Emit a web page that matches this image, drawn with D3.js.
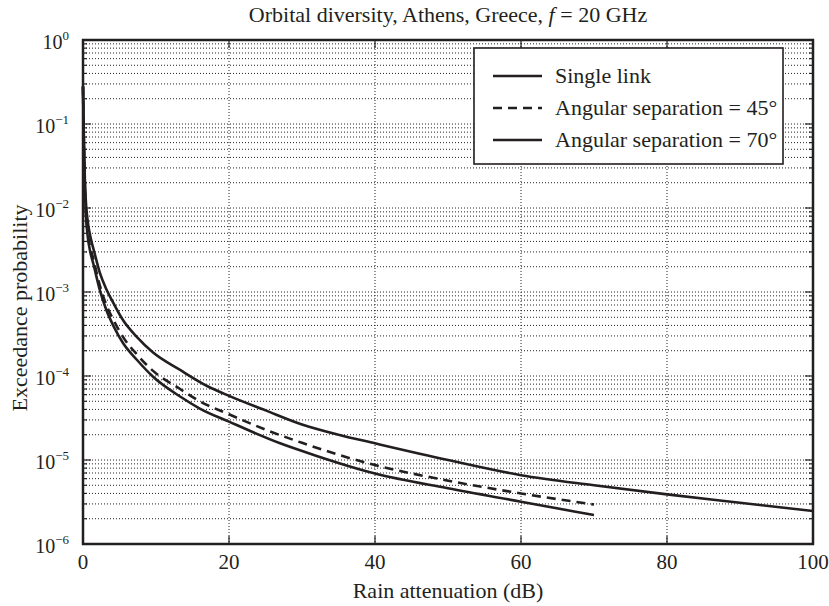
<!DOCTYPE html>
<html>
<head>
<meta charset="utf-8">
<script src="https://cdn.jsdelivr.net/npm/d3@7"></script>
<style>
  body { margin: 0; background: #fff; }
  text { font-family: "Liberation Serif", "DejaVu Serif", serif; fill: #231f20; }
  .grid line { stroke: #222; stroke-width: 1; stroke-dasharray: 1, 2; }
  .curve { fill: none; stroke: #231f20; stroke-width: 2.6; }
</style>
</head>
<body>
<div id="chart"></div>
<script>
// attenuation (dB) / exceedance probability
var singleA = [0, 0.1, 0.2, 0.35, 0.6, 1, 1.5, 2.3, 3.2, 4.2, 5.5, 7.4, 9.6, 13.3, 17, 20, 25, 30, 35, 40, 50, 60, 70, 80, 90, 100];
var singleP = [0.28, 0.085, 0.032, 0.014, 7.5e-3, 4.6e-3, 3.1e-3, 1.7e-3, 1.08e-3, 7.3e-4, 4.6e-4, 2.9e-4, 1.9e-4, 1.18e-4, 7.6e-5, 5.8e-5, 3.9e-5, 2.65e-5, 2.0e-5, 1.58e-5, 1.0e-5, 6.6e-6, 5.0e-6, 3.9e-6, 3.1e-6, 2.47e-6];

var sep45A = [0, 0.1, 0.2, 0.35, 0.6, 1, 1.4, 2.3, 3.2, 4.2, 5.5, 7.4, 9.6, 13.3, 16, 20, 25, 30, 40, 49, 60, 70];
var sep45P = [0.28, 0.075, 0.027, 0.011, 5.5e-3, 3.4e-3, 2.5e-3, 1.2e-3, 7.0e-4, 4.6e-4, 2.9e-4, 1.8e-4, 1.15e-4, 7.0e-5, 5.0e-5, 3.5e-5, 2.3e-5, 1.6e-5, 8.7e-6, 5.9e-6, 4.0e-6, 2.95e-6];

var sep70A = [0, 0.1, 0.2, 0.35, 0.6, 1, 1.4, 2.3, 3.2, 4.2, 5.5, 7.4, 9.6, 13.3, 16, 20, 27, 31.6, 40, 50, 60, 70];
var sep70P = [0.28, 0.07, 0.025, 0.01, 5.0e-3, 3.0e-3, 2.2e-3, 1.06e-3, 6.1e-4, 3.9e-4, 2.45e-4, 1.55e-4, 9.8e-5, 5.7e-5, 4.1e-5, 2.86e-5, 1.58e-5, 1.15e-5, 6.9e-6, 4.6e-6, 3.19e-6, 2.21e-6];

var xTicks = [0, 20, 40, 60, 80, 100];
var yExps = [0, -1, -2, -3, -4, -5, -6];
var legendLabels = ["Single link", "Angular separation = 45°", "Angular separation = 70°"];

var margin = { top: 40, right: 16, bottom: 62, left: 83 },
  width = 829 - margin.left - margin.right,
  height = 606 - margin.top - margin.bottom;

var x = d3.scaleLinear().domain([0, 100]).range([0, width]);
var y = d3.scaleLog().domain([1e-6, 1]).range([height, 0]);

var svg = d3.select("#chart").append("svg")
  .attr("width", 829)
  .attr("height", 606);

var g = svg.append("g")
  .attr("transform", "translate(" + margin.left + "," + margin.top + ")");

// minor + major log values
var yGridVals = [];
for (var e = -6; e < 0; e++) {
  for (var m = 1; m < 10; m++) {
    yGridVals.push(m * Math.pow(10, e));
  }
}

// dotted grid
var grid = g.append("g").attr("class", "grid");
grid.selectAll(".hl")
  .data(yGridVals.filter(function (v) { return v > 1e-6; }))
  .enter().append("line")
  .attr("x1", 0).attr("x2", width)
  .attr("y1", function (d) { return y(d); })
  .attr("y2", function (d) { return y(d); });
grid.selectAll(".vl")
  .data(xTicks.slice(1, -1))
  .enter().append("line")
  .attr("y1", 0).attr("y2", height)
  .attr("x1", function (d) { return x(d); })
  .attr("x2", function (d) { return x(d); });

// inward ticks
var ticks = g.append("g").attr("stroke", "#231f20").attr("stroke-width", 1.2);
yGridVals.forEach(function (v) {
  var len = (Math.abs(Math.log10(v) - Math.round(Math.log10(v))) < 1e-9) ? 8 : 4;
  ticks.append("line").attr("x1", 0).attr("x2", len).attr("y1", y(v)).attr("y2", y(v));
  ticks.append("line").attr("x1", width).attr("x2", width - len).attr("y1", y(v)).attr("y2", y(v));
});
xTicks.forEach(function (v) {
  ticks.append("line").attr("x1", x(v)).attr("x2", x(v)).attr("y1", height).attr("y2", height - 8);
  ticks.append("line").attr("x1", x(v)).attr("x2", x(v)).attr("y1", 0).attr("y2", 8);
});

// curves
var line = d3.line()
  .x(function (d) { return x(d[0]); })
  .y(function (d) { return y(d[1]); })
  .curve(d3.curveMonotoneX);

function zip(a, p) {
  return a.map(function (v, i) { return [v, p[i]]; });
}

g.append("path").attr("class", "curve").attr("d", line(zip(singleA, singleP)));
g.append("path").attr("class", "curve").attr("d", line(zip(sep45A, sep45P)))
  .attr("stroke-dasharray", "9,6");
g.append("path").attr("class", "curve").attr("d", line(zip(sep70A, sep70P)));

// frame
g.append("rect")
  .attr("width", width).attr("height", height)
  .attr("fill", "none").attr("stroke", "#231f20").attr("stroke-width", 2.5);

// x tick labels
g.selectAll(".xl")
  .data(xTicks)
  .enter().append("text")
  .attr("x", function (d) { return x(d); })
  .attr("y", height + 25)
  .attr("text-anchor", "middle")
  .attr("font-size", 21)
  .text(function (d) { return d; });

// y tick labels 10^n
var yl = g.selectAll(".yl")
  .data(yExps)
  .enter().append("text")
  .attr("x", -14)
  .attr("y", function (d) { return y(Math.pow(10, d)) + 9; })
  .attr("text-anchor", "end")
  .attr("font-size", 20);
yl.append("tspan").text("10");
yl.append("tspan")
  .attr("dy", -9)
  .attr("font-size", 13)
  .text(function (d) { return d === 0 ? "0" : "\u2212" + Math.abs(d); });

// titles
svg.append("text")
  .attr("x", margin.left + width / 2)
  .attr("y", 22)
  .attr("text-anchor", "middle")
  .attr("font-size", 22)
  .html("Orbital diversity, Athens, Greece, <tspan font-style='italic'>f</tspan> = 20 GHz");

svg.append("text")
  .attr("x", margin.left + width / 2)
  .attr("y", 598)
  .attr("text-anchor", "middle")
  .attr("font-size", 22)
  .text("Rain attenuation (dB)");

svg.append("text")
  .attr("transform", "translate(27,308) rotate(-90)")
  .attr("text-anchor", "middle")
  .attr("font-size", 22)
  .text("Exceedance probability");

// legend
var lg = svg.append("g").attr("transform", "translate(474,48)");
lg.append("rect")
  .attr("width", 309).attr("height", 116)
  .attr("fill", "#fff").attr("stroke", "#231f20").attr("stroke-width", 1.6);
var dashes = [null, "9,6", null];
legendLabels.forEach(function (lab, i) {
  var yy = 28 + i * 32;
  lg.append("line")
    .attr("x1", 19).attr("x2", 68)
    .attr("y1", yy).attr("y2", yy)
    .attr("stroke", "#231f20").attr("stroke-width", 2.6)
    .attr("stroke-dasharray", dashes[i]);
  lg.append("text")
    .attr("x", 81).attr("y", yy + 7)
    .attr("font-size", 22)
    .text(lab);
});
</script>
</body>
</html>
